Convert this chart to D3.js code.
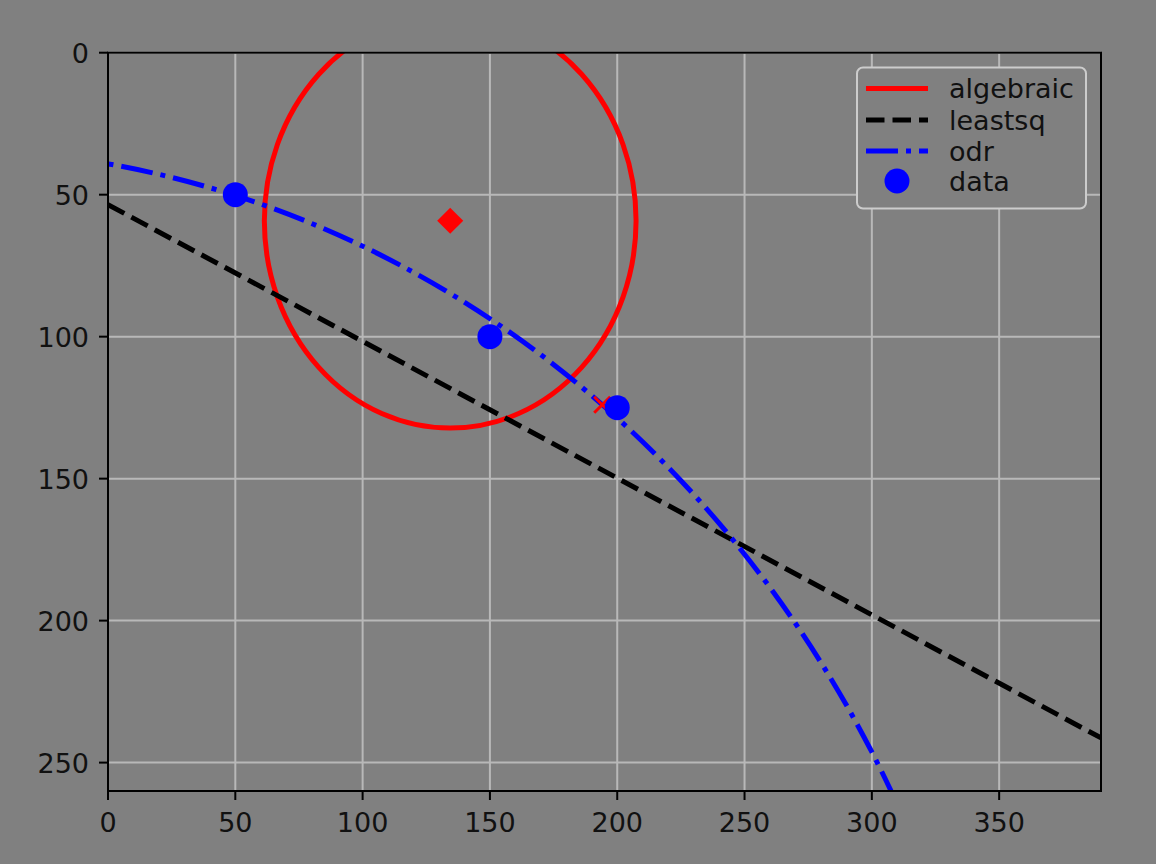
<!DOCTYPE html>
<html>
<head>
<meta charset="utf-8">
<script src="https://cdn.jsdelivr.net/npm/d3@7"></script>
<style>
  html, body { margin: 0; padding: 0; background: #808080; }
  svg { display: block; }
  text { font-family: "DejaVu Sans", sans-serif; }
</style>
</head>
<body>
<svg id="chart" width="1156" height="864"></svg>
<script>
// ---- data ----
const xTicks = [0, 50, 100, 150, 200, 250, 300, 350];
const yTicks = [0, 50, 100, 150, 200, 250];
const xDomain = [0, 390];
const yDomain = [0, 260];

const dataX = [50, 150, 200];
const dataY = [50, 100, 125];

// algebraic fit: circle centre + radius
const algebraicCenter = [134.4, 59.2];
const algebraicRadius = [73];
// leastsq fit (appears as a straight line)
const leastsqX = [0, 390];
const leastsqY = [53.5, 241.3];
// odr fit: circle centre + radius
const odrCenter = [-67, 457];
const odrRadius = [423.2];
// extra centre marker (red x)
const xMarker = [194.1, 124.0];

const legendLabels = ["algebraic", "leastsq", "odr", "data"];

// ---- layout ----
const W = 1156, H = 864;
const plot = { left: 108, right: 1101, top: 52.7, bottom: 791 };
const lw = 5;

const svg = d3.select("#chart");
svg.append("rect").attr("width", W).attr("height", H).attr("fill", "#808080");

const x = d3.scaleLinear().domain(xDomain).range([plot.left, plot.right]);
const y = d3.scaleLinear().domain(yDomain).range([plot.top, plot.bottom]);

svg.append("defs").append("clipPath").attr("id", "clip")
  .append("rect")
  .attr("x", plot.left).attr("y", plot.top)
  .attr("width", plot.right - plot.left).attr("height", plot.bottom - plot.top);

// grid
const grid = svg.append("g");
grid.selectAll("line.gx").data(xTicks).enter().append("line")
  .attr("x1", d => x(d)).attr("x2", d => x(d))
  .attr("y1", plot.top).attr("y2", plot.bottom)
  .attr("stroke", "#b8b8b8").attr("stroke-width", 2);
grid.selectAll("line.gy").data(yTicks).enter().append("line")
  .attr("y1", d => y(d)).attr("y2", d => y(d))
  .attr("x1", plot.left).attr("x2", plot.right)
  .attr("stroke", "#b8b8b8").attr("stroke-width", 2);

const g = svg.append("g").attr("clip-path", "url(#clip)");

// algebraic circle
g.append("ellipse")
  .attr("cx", x(algebraicCenter[0])).attr("cy", y(algebraicCenter[1]))
  .attr("rx", x(algebraicRadius[0]) - x(0)).attr("ry", y(algebraicRadius[0]) - y(0))
  .attr("fill", "none").attr("stroke", "#ff0000").attr("stroke-width", lw);

// algebraic centre diamond
g.append("path")
  .attr("d", d3.symbol().type(d3.symbolSquare).size(340)())
  .attr("transform", `translate(${x(algebraicCenter[0])},${y(algebraicCenter[1])}) rotate(45)`)
  .attr("fill", "#ff0000");

// leastsq
g.append("path")
  .datum(leastsqX.map((v, i) => [v, leastsqY[i]]))
  .attr("d", d3.line().x(d => x(d[0])).y(d => y(d[1])))
  .attr("fill", "none").attr("stroke", "#000000").attr("stroke-width", lw)
  .attr("stroke-dasharray", `${3.7 * lw},${1.6 * lw}`);

// odr circle: visible upper arc, drawn from the bottom edge up to the left edge
{
  const [a, b] = odrCenter, R = odrRadius[0];
  const yBottom = yDomain[1] + 2;
  const xStart = a + Math.sqrt(R * R - (b - yBottom) ** 2);
  const xEnd = xDomain[0] - 5;
  const yEnd = b - Math.sqrt(R * R - (xEnd - a) ** 2);
  const rx = x(R) - x(0), ry = y(R) - y(0);
  g.append("path")
    .attr("d", `M${x(xStart)},${y(yBottom)} A${rx},${ry} 0 0 0 ${x(xEnd)},${y(yEnd)}`)
    .attr("fill", "none").attr("stroke", "#0000ff").attr("stroke-width", lw)
    .attr("stroke-dasharray", `${6.4 * lw},${1.6 * lw},${1 * lw},${1.6 * lw}`)
    .attr("stroke-dashoffset", 4);
}

// red x marker
const xm = 8;
g.append("path")
  .attr("d", `M${-xm},${-xm}L${xm},${xm}M${-xm},${xm}L${xm},${-xm}`)
  .attr("transform", `translate(${x(xMarker[0])},${y(xMarker[1])})`)
  .attr("stroke", "#ff0000").attr("stroke-width", 3).attr("fill", "none");

// data points
g.selectAll("circle.data").data(dataX.map((v, i) => [v, dataY[i]])).enter().append("circle")
  .attr("cx", d => x(d[0])).attr("cy", d => y(d[1])).attr("r", 12.5)
  .attr("fill", "#0000ff");

// spines
svg.append("rect")
  .attr("x", plot.left).attr("y", plot.top)
  .attr("width", plot.right - plot.left).attr("height", plot.bottom - plot.top)
  .attr("fill", "none").attr("stroke", "#000").attr("stroke-width", 2);

// ticks + labels
const tickLen = 9;
const fs = 27;
svg.selectAll("line.tx").data(xTicks).enter().append("line")
  .attr("x1", d => x(d)).attr("x2", d => x(d))
  .attr("y1", plot.bottom).attr("y2", plot.bottom + tickLen)
  .attr("stroke", "#000").attr("stroke-width", 2);
svg.selectAll("text.tx").data(xTicks).enter().append("text")
  .attr("x", d => x(d)).attr("y", plot.bottom + 41)
  .attr("text-anchor", "middle").attr("font-size", fs).attr("fill", "#111")
  .text(d => d);
svg.selectAll("line.ty").data(yTicks).enter().append("line")
  .attr("y1", d => y(d)).attr("y2", d => y(d))
  .attr("x1", plot.left - tickLen).attr("x2", plot.left)
  .attr("stroke", "#000").attr("stroke-width", 2);
svg.selectAll("text.ty").data(yTicks).enter().append("text")
  .attr("x", plot.left - 19).attr("y", d => y(d) + 10)
  .attr("text-anchor", "end").attr("font-size", fs).attr("fill", "#111")
  .text(d => d);

// legend
const lg = svg.append("g");
lg.append("rect")
  .attr("x", 857).attr("y", 67.5).attr("width", 229).attr("height", 141)
  .attr("rx", 6).attr("ry", 6)
  .attr("fill", "#808080").attr("stroke", "#cccccc").attr("stroke-width", 2);
const rowY = [88.5, 120, 151, 181];
const hx0 = 866, hx1 = 928, tx = 949;
const styles = [
  { color: "#ff0000", dash: null },
  { color: "#000000", dash: `${3.7 * lw},${1.6 * lw}` },
  { color: "#0000ff", dash: `${6.4 * lw},${1.6 * lw},${1 * lw},${1.6 * lw}` }
];
styles.forEach((s, i) => {
  const l = lg.append("line")
    .attr("x1", hx0).attr("x2", hx1).attr("y1", rowY[i]).attr("y2", rowY[i])
    .attr("stroke", s.color).attr("stroke-width", lw);
  if (s.dash) l.attr("stroke-dasharray", s.dash);
});
lg.append("circle").attr("cx", (hx0 + hx1) / 2).attr("cy", rowY[3]).attr("r", 12.5).attr("fill", "#0000ff");
lg.selectAll("text.lt").data(legendLabels).enter().append("text")
  .attr("x", tx).attr("y", (d, i) => rowY[i] + 9.5)
  .attr("font-size", fs).attr("fill", "#111")
  .text(d => d);
</script>
</body>
</html>
